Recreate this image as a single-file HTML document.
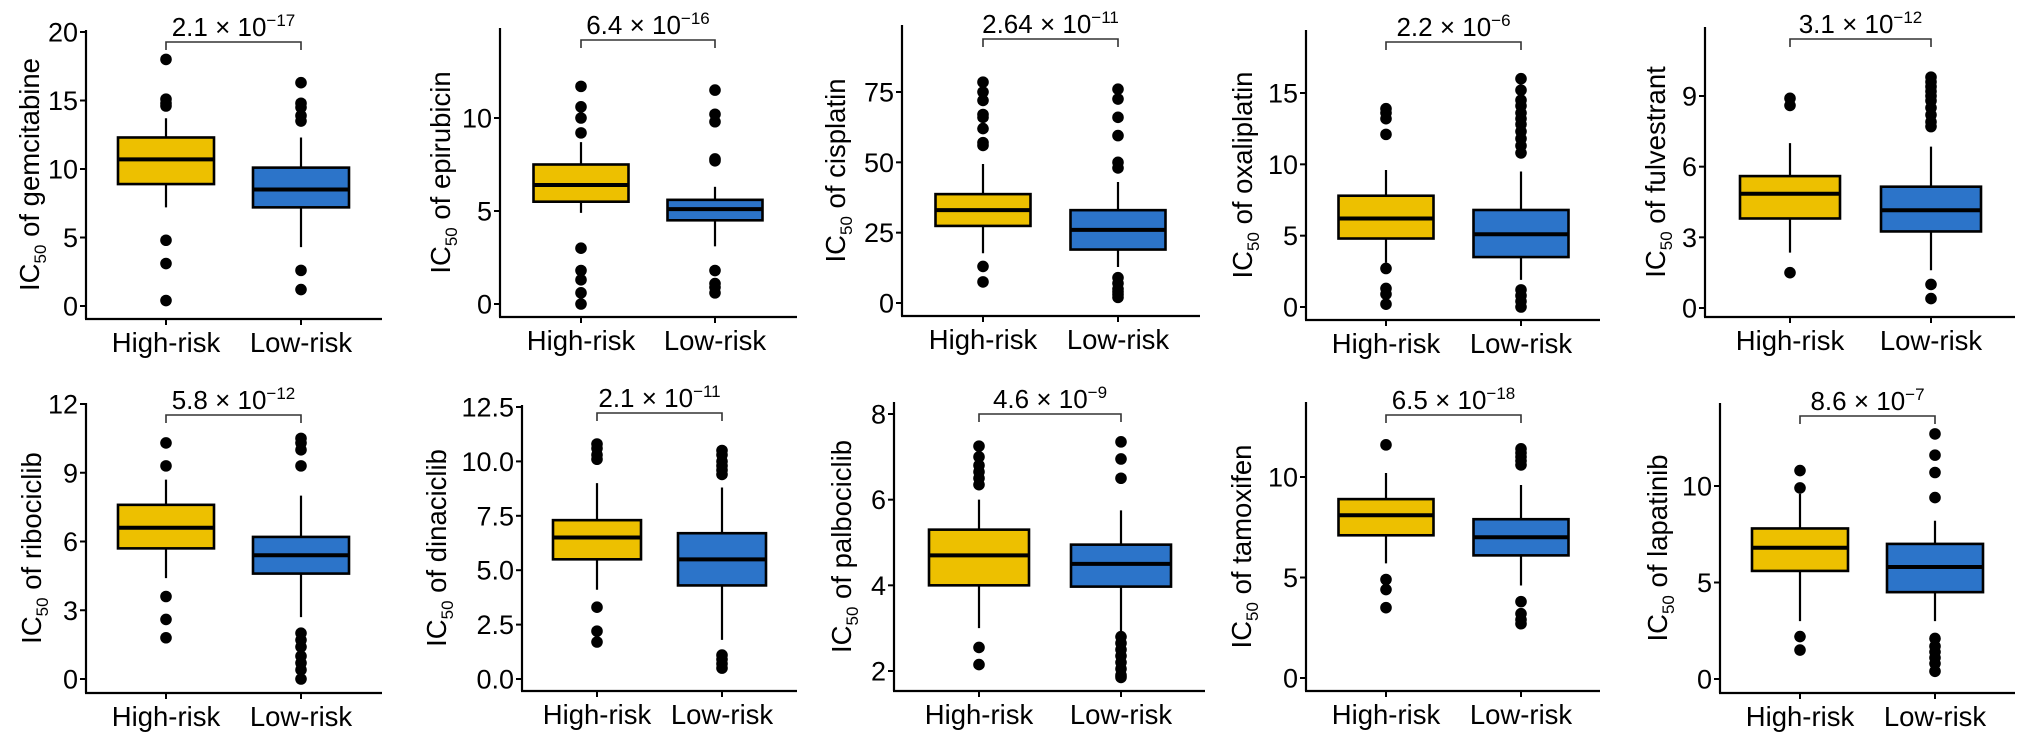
<!DOCTYPE html>
<html><head><meta charset="utf-8"><style>
html,body{margin:0;padding:0;background:#fff;}
svg{display:block;font-family:"Liberation Sans",Arial,sans-serif;}
</style></head><body>
<svg id="chart" width="2032" height="746" viewBox="0 0 2032 746" xmlns="http://www.w3.org/2000/svg"></svg>
<script>
const drugs=["gemcitabine","epirubicin","cisplatin","oxaliplatin","fulvestrant","ribociclib","dinaciclib","palbociclib","tamoxifen","lapatinib"];
const groups=["High-risk","Low-risk"];
const pMant=["2.1","6.4","2.64","2.2","3.1","5.8","2.1","4.6","6.5","8.6"];
const pExp=["−17","−16","−11","−6","−12","−12","−11","−9","−18","−7"];
const tickLabels=[["0","5","10","15","20"],["0","5","10"],["0","25","50","75"],["0","5","10","15"],["0","3","6","9"],["0","3","6","9","12"],["0.0","2.5","5.0","7.5","10.0","12.5"],["2","4","6","8"],["0","5","10"],["0","5","10"]];
// box stats: [lower whisker, q1, median, q3, upper whisker]
const highStats=[[7.2,8.9,10.7,12.3,13.7],[4.9,5.5,6.4,7.5,8.7],[17.7,27.4,33,38.7,49.4],[3.1,4.8,6.2,7.8,9.6],[2.35,3.8,4.85,5.6,7.0],[4.4,5.7,6.6,7.6,8.7],[4.1,5.5,6.5,7.3,9.0],[3.0,4.0,4.7,5.3,6.0],[5.7,7.1,8.1,8.9,10.2],[3.0,5.6,6.8,7.8,9.6]];
const lowStats=[[4.3,7.2,8.5,10.1,12.3],[3.1,4.5,5.1,5.6,6.3],[12.8,19,26,33,43],[1.9,3.5,5.1,6.8,9.5],[1.6,3.25,4.15,5.15,6.85],[2.7,4.6,5.4,6.2,8.0],[1.8,4.3,5.5,6.7,8.8],[2.9,3.97,4.5,4.95,5.75],[4.6,6.1,7.0,7.9,9.6],[3.0,4.5,5.8,7.0,8.2]];
const highOut=[[18.0,15.1,14.8,14.6,4.8,3.1,0.4],[11.7,10.6,10,9.2,3,1.8,1.3,0.6,0],[78.5,75,72,67,66,62,57,56,13,7.5],[13.9,13.6,13.2,12.1,2.7,1.3,0.9,0.2],[8.9,8.6,1.5],[10.3,9.3,3.6,2.6,1.8],[10.8,10.6,10.3,10.1,3.3,2.2,1.7],[7.25,7.0,6.8,6.65,6.5,6.35,2.55,2.15],[11.6,4.9,4.4,3.5],[10.8,9.9,2.2,1.5]];
const lowOut=[[16.3,14.8,14.5,13.9,13.5,2.6,1.2],[11.5,10.2,9.8,7.8,7.7,1.8,1.1,0.9,0.6],[76,72.5,66,59.5,50,48,9,7,5,4,3,2],[16,15.2,14.5,14.1,13.6,13.2,12.8,12.3,11.8,11.3,10.8,1.2,0.8,0.4,0],[9.8,9.6,9.4,9.2,9.0,8.8,8.5,8.2,7.9,7.7,1.0,0.4],[10.5,10.3,10.0,9.3,2.0,1.7,1.4,1.0,0.7,0.4,0.0],[10.5,10.3,10.0,9.8,9.6,9.4,1.1,0.9,0.7,0.5],[7.35,6.95,6.5,2.8,2.65,2.5,2.35,2.2,2.05,1.9,1.85],[11.4,11.2,11,10.8,10.6,3.8,3.2,2.9,2.7],[12.7,11.6,10.7,9.4,2.1,1.7,1.4,1.1,0.8,0.4]];

// layout: axisX, top, bottom, right, cat1X, cat2X, boxW, firstTickPx, lastTickPx, bracketY, titleX
const layout=[
[86,30,319,382,166,301,96,306,32,42,29],
[500,28,317,797,581,715,95,304,118,40,440],
[902,25,316,1200,983,1118,95,303,92,39,835],
[1306,30,320,1600,1386,1521,95,307,93,42,1242],
[1705,27,317,2015,1790,1931,100,308,96,39,1655],
[86,403,693,382,166,301,96,679,404,415,31],
[522,405,691,797,597,722,88,679,407,413,436],
[894,402,691,1205,979,1121,100,671,414,414,841],
[1306,402,691,1600,1386,1521,95,678,477,415,1241],
[1720,403,693,2015,1800,1935,96,679,486,416,1657]];
const fills=["#EDC000","#2C74C9"];

const NS="http://www.w3.org/2000/svg";
const svg=document.getElementById("chart");
function mk(tag,attrs,parent){const e=document.createElementNS(NS,tag);for(const k in attrs)e.setAttribute(k,attrs[k]);(parent||svg).appendChild(e);return e;}

drugs.forEach((drug,i)=>{
  const L=layout[i];
  const [ax,top,bot,right,c1,c2,bw,p0,p1,by,tx]=L;
  const ticks=tickLabels[i].map(Number);
  const t0=ticks[0],tN=ticks[ticks.length-1];
  const y=v=>p0+(v-t0)/(tN-t0)*(p1-p0);
  const g=mk("g",{});
  
  
  const ya=mk("line",{x1:ax,y1:top,x2:ax,y2:bot,stroke:"#000","stroke-width":2.2},g);
  
  
  const xa=mk("line",{x1:ax-1,y1:bot,x2:right,y2:bot,stroke:"#000","stroke-width":2.2},g);
  
  
  tickLabels[i].forEach((lab,k)=>{
    const yy=y(ticks[k]);
    mk("line",{x1:ax-6,y1:yy,x2:ax,y2:yy,stroke:"#000","stroke-width":2},g);
    const t=mk("text",{x:ax-8,y:yy+9.5,"text-anchor":"end","font-size":27,fill:"#000"},g);
    t.textContent=lab;
    
    
  });
  const ymid=(top+bot)/2;
  const tt=mk("text",{x:0,y:0,"text-anchor":"middle","font-size":27.5,fill:"#000",transform:`translate(${tx+10},${ymid}) rotate(-90)`},g);
  
  
  const s1=mk("tspan",{},tt);s1.textContent="IC";
  const s2=mk("tspan",{"font-size":17,dy:7},tt);s2.textContent="50";
  const s3=mk("tspan",{dy:-7},tt);s3.textContent=" of "+drug;
  const cats=[c1,c2];
  [highStats[i],lowStats[i]].forEach((st,j)=>{
    const cx=cats[j];
    mk("line",{x1:cx,y1:bot,x2:cx,y2:bot+6,stroke:"#000","stroke-width":2},g);
    const xl=mk("text",{x:cx,y:bot+33,"text-anchor":"middle","font-size":27.5,fill:"#000"},g);
    xl.textContent=groups[j];
    
    
    const w=mk("line",{x1:cx,y1:y(st[0]),x2:cx,y2:y(st[4]),stroke:"#000","stroke-width":2.2},g);
    
    
    const r=mk("rect",{x:cx-bw/2,y:y(st[3]),width:bw,height:y(st[1])-y(st[3]),fill:fills[j],stroke:"#000","stroke-width":2.6},g);
    
    
    const m=mk("line",{x1:cx-bw/2,y1:y(st[2]),x2:cx+bw/2,y2:y(st[2]),stroke:"#000","stroke-width":4},g);
    
    
    (j?lowOut[i]:highOut[i]).forEach(v=>{
      const c=mk("circle",{cx:cx,cy:y(v),r:5.8,fill:"#000"},g);
      
      
    });
  });
  const br=mk("path",{d:`M${c1},${by+8}V${by}H${c2}V${by+8}`,fill:"none",stroke:"#333","stroke-width":1.6},g);
  
  
  const pt=mk("text",{x:(c1+c2)/2,y:by-6,"text-anchor":"middle","font-size":26,fill:"#000"},g);
  
  
  const q1=mk("tspan",{},pt);q1.textContent=pMant[i]+" × 10";
  const q2=mk("tspan",{"font-size":17,dy:-10},pt);q2.textContent=pExp[i];
});
</script>
</body></html>
